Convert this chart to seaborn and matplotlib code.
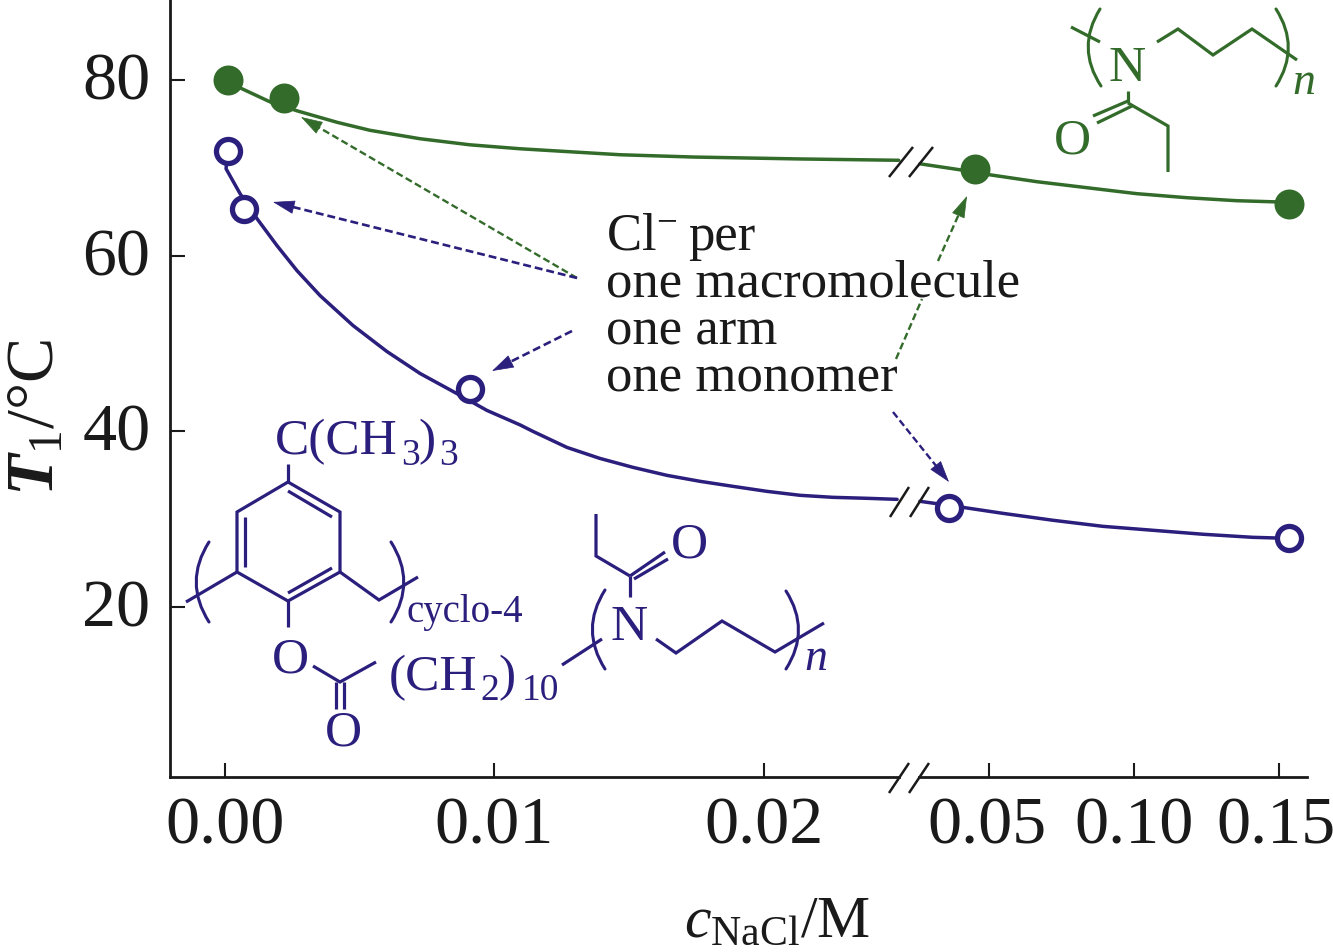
import matplotlib
matplotlib.use("Agg")
import matplotlib.pyplot as plt
from matplotlib.transforms import ScaledTranslation
import seaborn as sns

# curves, low concentration part and high concentration part
green_c1 = [0.0001, 0.00056, 0.00167, 0.00267, 0.00416, 0.00538, 0.00724, 0.00909, 0.01095, 0.0128, 0.01466, 0.01737, 0.02134, 0.0250]
green_t1 = [80.0, 79.09, 77.5, 76.48, 75.17, 74.26, 73.3, 72.61, 72.16, 71.82, 71.48, 71.22, 71.0, 70.85]
green_c2 = [0.0262, 0.04, 0.0503, 0.0666, 0.0838, 0.1010, 0.1183, 0.1355, 0.1528]
green_t2 = [70.45, 69.77, 69.2, 68.41, 67.73, 67.05, 66.59, 66.25, 66.08]

blue_c1 = [0.0001, 0.00004, 0.00056, 0.00119, 0.00193, 0.00267, 0.00353, 0.00475, 0.00601, 0.00724, 0.00846, 0.00972,
           0.01095, 0.01143, 0.01269, 0.01391, 0.01514, 0.0164, 0.01763, 0.01885, 0.02011, 0.02134, 0.02256, 0.02382, 0.02494]
blue_t1 = [71.93, 69.89, 67.05, 64.2, 61.14, 58.3, 55.45, 52.05, 49.09, 46.59, 44.55, 42.39,
           40.74, 40.0, 38.18, 36.93, 35.91, 35.0, 34.32, 33.75, 33.18, 32.73, 32.5, 32.39, 32.27]
blue_c2 = [0.0262, 0.0410, 0.0548, 0.0721, 0.0893, 0.1066, 0.1238, 0.1410, 0.1528]
blue_t2 = [32.05, 31.36, 30.68, 29.89, 29.2, 28.75, 28.3, 27.95, 27.84]

# measured points
green_pts_c1 = [0.0001, 0.0022]
green_pts_t1 = [80.0, 77.9]
green_pts_c2 = [0.0452, 0.1534]
green_pts_t2 = [69.89, 65.9]

blue_pts_c1 = [0.0001, 0.0007, 0.0091]
blue_pts_t1 = [71.9, 65.3, 44.8]
blue_pts_c2 = [0.0362, 0.1534]
blue_pts_t2 = [31.25, 27.84]

xticks1 = [0.00, 0.01, 0.02]
xticks2 = [0.05, 0.10, 0.15]
yticks = [20, 40, 60, 80]

GREEN = "#336b2b"
BLUE = "#2a1f7c"
BLACK = "#1a1a1a"
W, H = 1333, 953

sns.set_theme(style="ticks")
plt.rcParams["font.family"] = "Liberation Serif"
plt.rcParams["mathtext.fontset"] = "custom"
plt.rcParams["mathtext.rm"] = "Liberation Serif"
plt.rcParams["mathtext.it"] = "Liberation Serif:italic"
plt.rcParams["mathtext.bf"] = "Liberation Serif:italic:bold"
plt.rcParams["mathtext.default"] = "rm"

fig = plt.figure(figsize=(W / 100, H / 100), dpi=100, facecolor="white")


def axes_px(x0, x1, y0, y1):
    return fig.add_axes([x0 / W, 1 - y1 / H, (x1 - x0) / W, (y1 - y0) / H])


ax1 = axes_px(170, 899, 0, 778)
ax2 = axes_px(919, 1307, 0, 778)
ax1.set_xlim(-0.00204, 0.02501)
ax2.set_xlim(0.0259, 0.1597)

for ax in (ax1, ax2):
    ax.set_ylim(0.68, 89.2)
    ax.patch.set_alpha(0)
    ax.spines["top"].set_visible(False)
    ax.spines["right"].set_visible(False)
    ax.spines["bottom"].set_linewidth(2)
    ax.spines["bottom"].set_color(BLACK)
    ax.spines["left"].set_linewidth(2)
    ax.spines["left"].set_color(BLACK)
    ax.tick_params(axis="x", direction="in", length=10, width=1.5, color=BLACK,
                   labelsize=49, pad=13, labelcolor=BLACK)
    ax.tick_params(axis="y", direction="in", length=11, width=1.5, color=BLACK,
                   labelsize=49, pad=14, labelcolor=BLACK)

ax2.spines["left"].set_visible(False)
ax2.tick_params(axis="y", left=False, labelleft=False)


def curve(ax, cs, ts, col):
    sns.lineplot(x=cs, y=ts, ax=ax, color=col, linewidth=2.5, sort=False, estimator=None, clip_on=False)


curve(ax1, green_c1, green_t1, GREEN)
curve(ax2, green_c2, green_t2, GREEN)
curve(ax1, blue_c1, blue_t1, BLUE)
curve(ax2, blue_c2, blue_t2, BLUE)

sns.scatterplot(x=green_pts_c1, y=green_pts_t1, ax=ax1, color=GREEN, s=466, linewidth=0, zorder=5, clip_on=False)
sns.scatterplot(x=green_pts_c2, y=green_pts_t2, ax=ax2, color=GREEN, s=466, linewidth=0, zorder=5, clip_on=False)
sns.scatterplot(x=blue_pts_c1, y=blue_pts_t1, ax=ax1, facecolor="white", edgecolor=BLUE, s=300, linewidth=3.8, zorder=5, clip_on=False)
sns.scatterplot(x=blue_pts_c2, y=blue_pts_t2, ax=ax2, facecolor="white", edgecolor=BLUE, s=300, linewidth=3.8, zorder=5, clip_on=False)

ax1.set_xticks(xticks1)
ax1.set_xticklabels(["%.2f" % v for v in xticks1])
ax2.set_xticks(xticks2)
ax2.set_xticklabels(["%.2f" % v for v in xticks2])
ax1.set_yticks(yticks)
ax1.set_yticklabels([str(v) for v in yticks])


def shift_px(label, dx, dy):
    label.set_transform(label.get_transform() + ScaledTranslation(dx / 100, dy / 100, fig.dpi_scale_trans))


for label in ax1.get_yticklabels():
    shift_px(label, 0, 5)
shift_px(ax2.get_xticklabels()[0], -2, 0)
shift_px(ax2.get_xticklabels()[2], -3, 0)

ax1.set_ylabel(r"$\mathbf{T}_{1}$/°C", fontsize=49, color=BLACK)
ax1.yaxis.set_label_coords(-0.14, 0.463)
ax1.set_xlabel(r"$\mathit{c}_{\mathrm{NaCl}}$/M", fontsize=43, color=BLACK)
ax1.xaxis.set_label_coords(0.833, -0.152)

# overlay in pixel coordinates for the structures, arrows and break marks
ov = fig.add_axes([0, 0, 1, 1], zorder=10)
ov.set_xlim(0, W)
ov.set_ylim(H, 0)
ov.axis("off")
ov.patch.set_alpha(0)


def line(col, lw, *pts):
    ov.plot([p[0] for p in pts], [p[1] for p in pts], color=col, lw=lw,
            solid_capstyle="butt", solid_joinstyle="miter")


def paren(col, a, b, c):
    ov.annotate("", xy=c, xytext=a,
                arrowprops=dict(arrowstyle="-", color=col, lw=2.2,
                                connectionstyle="arc3,rad=%.2f" % (0.32 if b[0] < a[0] else -0.32),
                                shrinkA=0, shrinkB=0))


def arrow(col, lw, start, tip, size=20):
    dx, dy = tip[0] - start[0], tip[1] - start[1]
    dist = (dx * dx + dy * dy) ** 0.5
    back = (tip[0] - dx / dist * size, tip[1] - dy / dist * size)
    ov.plot([start[0], back[0]], [start[1], back[1]], color=col, lw=lw, linestyle=(0, (3, 1.5)))
    ov.annotate("", xy=tip, xytext=back,
                arrowprops=dict(arrowstyle="-|>,head_length=1.44,head_width=0.45", color=col, lw=0.5,
                                shrinkA=0, shrinkB=0, mutation_scale=10))


# axis and curve breaks
for x0 in (889, 909):
    line(BLACK, 1.8, (x0, 794), (x0 + 20, 764))
    line(BLACK, 1.8, (x0, 178), (x0 + 24, 148))
    line(BLACK, 1.8, (x0 + 1, 518), (x0 + 20, 488))

# arrows
arrow(GREEN, 1.7, (577, 279), (301, 118))
arrow(BLUE, 1.9, (577, 279), (273, 203))
arrow(BLUE, 1.9, (572, 332), (492, 372))
ov.plot([896, 922], [360, 300], color=GREEN, lw=1.7, linestyle=(0, (3, 1.5)))
arrow(GREEN, 1.7, (938, 262), (967, 197))
arrow(BLUE, 1.7, (893, 413), (949, 483))

# text block
ov.text(606, 250, "Cl$^{-}$", fontsize=38, color=BLACK, va="baseline", ha="left")
ov.text(688, 250, "per", fontsize=38, color=BLACK, va="baseline", ha="left")
block = [("one macromolecule", 297), ("one arm", 345), ("one monomer", 392)]
for s, y in block:
    ov.text(606, y, s, fontsize=38, color=BLACK, va="baseline", ha="left")

# green structure
g = 2.3
line(GREEN, g, (1071, 28), (1100, 43))
paren(GREEN, (1100, 10), (1087, 48), (1101, 87))
paren(GREEN, (1276, 10), (1288, 48), (1276, 87))
line(GREEN, g, (1157, 43), (1178, 30), (1213, 56), (1252, 30), (1297, 61))
line(GREEN, g, (1128, 92), (1128, 104))
line(GREEN, g, (1128, 102), (1093, 117))
line(GREEN, g, (1132, 107), (1097, 124))
line(GREEN, g, (1128, 104), (1168, 127), (1168, 173))
ov.text(1127, 69, "N", fontsize=37, color=GREEN, ha="center", va="center")
ov.text(1072, 141, "O", fontsize=37, color=GREEN, ha="center", va="center")
ov.text(1292, 94, "n", fontsize=33, color=GREEN, style="italic", ha="left", va="baseline")

# blue structure, ring
line(BLUE, g, (288, 483), (340, 513), (340, 573), (288, 602), (237, 573), (237, 513), (288, 483))
line(BLUE, g, (288, 492), (332, 518))
line(BLUE, g, (245, 518), (245, 568))
line(BLUE, g, (332, 569), (288, 594))
line(BLUE, g, (288, 483), (288, 465))
line(BLUE, g, (237, 573), (186, 603))
line(BLUE, g, (340, 573), (379, 601), (418, 578))
paren(BLUE, (209, 543), (198, 583), (209, 623))
paren(BLUE, (391, 543), (403, 583), (391, 623))
line(BLUE, g, (288, 602), (288, 628))
line(BLUE, g, (313, 667), (340, 683), (376, 663))
line(BLUE, g, (336, 683), (336, 710))
line(BLUE, g, (344, 683), (344, 710))

# blue structure, arm
line(BLUE, g, (596, 515), (596, 557), (630, 577))
line(BLUE, g, (630, 577), (665, 553))
line(BLUE, g, (634, 580), (668, 560))
line(BLUE, g, (630, 577), (630, 598))
line(BLUE, g, (656, 640), (676, 654), (722, 622), (775, 653), (824, 624))
line(BLUE, g, (562, 666), (602, 640))
paren(BLUE, (605, 591), (594, 630), (605, 670))
paren(BLUE, (786, 592), (798, 630), (786, 670))

# formula pieces with the subscripts set low as in the original
pieces = [("C(CH", 275, 454, 37), ("3", 401, 465, 27), (")", 418, 454, 37), ("3", 439, 465, 27),
          ("(CH", 389, 690, 37), ("2", 480, 700, 27), (")", 498, 690, 37), ("10", 522, 700, 27)]
for s, x, y, size in pieces:
    ov.text(x, y, s, fontsize=size, color=BLUE, ha="left", va="baseline")

ov.text(406, 622, "cyclo-4", fontsize=28, color=BLUE, ha="left", va="baseline")
ov.text(290, 660, "O", fontsize=37, color=BLUE, ha="center", va="center")
ov.text(343, 733, "O", fontsize=37, color=BLUE, ha="center", va="center")
ov.text(689, 545, "O", fontsize=37, color=BLUE, ha="center", va="center")
ov.text(629, 628, "N", fontsize=37, color=BLUE, ha="center", va="center")
ov.text(804, 670, "n", fontsize=33, color=BLUE, style="italic", ha="left", va="baseline")

fig.savefig("out.png", dpi=100, facecolor="white")
